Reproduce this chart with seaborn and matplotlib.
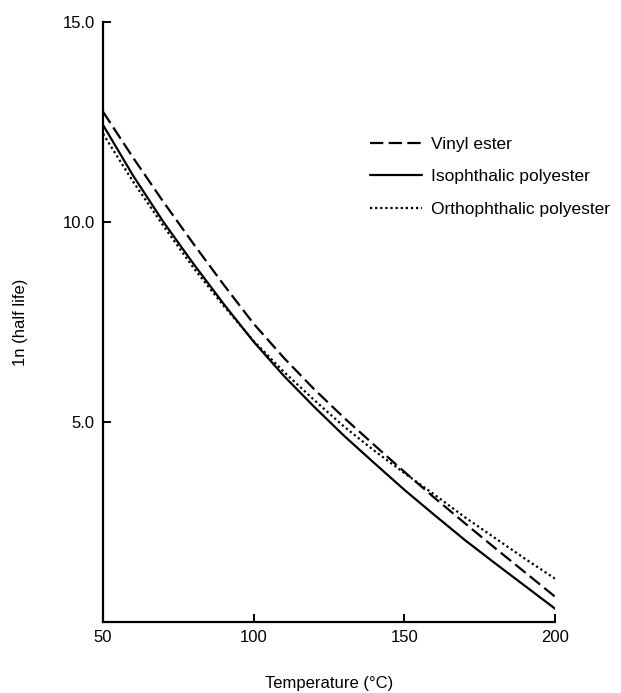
import matplotlib
matplotlib.use("Agg")
import matplotlib.pyplot as plt
import seaborn as sns
import pandas as pd

# Temperature (°C) and ln(half life) for three resin systems
temperature = [50, 60, 70, 80, 90, 100, 110, 120, 130, 140, 150, 160, 170, 180, 190, 200]
vinyl_ester = [12.75, 11.6, 10.5, 9.45, 8.43, 7.45, 6.6, 5.82, 5.1, 4.42, 3.75, 3.1, 2.47, 1.85, 1.24, 0.63]
isophthalic = [12.42, 11.15, 10.0, 8.95, 7.95, 7.0, 6.15, 5.38, 4.65, 3.97, 3.3, 2.67, 2.05, 1.47, 0.9, 0.33]
orthophthalic = [12.2, 11.0, 9.9, 8.85, 7.9, 7.02, 6.25, 5.55, 4.88, 4.28, 3.72, 3.18, 2.62, 2.1, 1.58, 1.08]

series_names = ["Vinyl ester", "Isophthalic polyester", "Orthophthalic polyester"]
x_ticks = [50, 100, 150, 200]
y_ticks = [5.0, 10.0, 15.0]

frames = []
for name, values in zip(series_names, [vinyl_ester, isophthalic, orthophthalic]):
    frames.append(pd.DataFrame({"Temperature": temperature, "lnhl": values, "Resin": name}))
df = pd.concat(frames, ignore_index=True)

sns.set_style("white")
plt.rcParams["font.family"] = ["Liberation Sans", "DejaVu Sans"]
plt.rcParams["font.size"] = 12
plt.rcParams["text.color"] = "black"
plt.rcParams["axes.labelcolor"] = "black"
plt.rcParams["xtick.color"] = "black"
plt.rcParams["ytick.color"] = "black"

fig = plt.figure(figsize=(6.21, 6.93), dpi=100)
ax = fig.add_axes([0.166, 0.1025, 0.728, 0.866])

dashes = {
    "Vinyl ester": (6, 2.4),
    "Isophthalic polyester": "",
    "Orthophthalic polyester": (1.0, 1.3),
}
sns.lineplot(
    data=df, x="Temperature", y="lnhl", hue="Resin", style="Resin",
    palette=["black"] * 3, dashes=dashes, linewidth=1.6, ax=ax, legend=True,
)

ax.set_xlim(50, 200)
ax.set_ylim(0, 15)
ax.set_xticks(x_ticks)
ax.set_xticklabels([str(t) for t in x_ticks])
ax.set_yticks(y_ticks)
ax.set_yticklabels([f"{t:.1f}" for t in y_ticks])
ax.tick_params(bottom=True, left=True, direction="in", length=6, width=1.4,
               color="black", labelsize=12, pad=6)

for side in ["top", "right"]:
    ax.spines[side].set_visible(False)
for side in ["left", "bottom"]:
    ax.spines[side].set_color("black")
    ax.spines[side].set_linewidth(1.6)

ax.set_xlabel("Temperature (°C)", fontsize=12)
ax.set_ylabel("1n (half life)", fontsize=12)
ax.xaxis.set_label_coords(0.5, -0.09)
ax.yaxis.set_label_coords(-0.165, 0.5)

leg = ax.legend(
    loc="upper left", bbox_to_anchor=(0.575, 0.82), frameon=False,
    handlelength=3.0, handletextpad=0.5, labelspacing=1.0, fontsize=12.5,
    borderaxespad=0,
)
for line in leg.get_lines():
    line.set_linewidth(1.6)

fig.savefig("out.png", dpi=100, facecolor="white")
